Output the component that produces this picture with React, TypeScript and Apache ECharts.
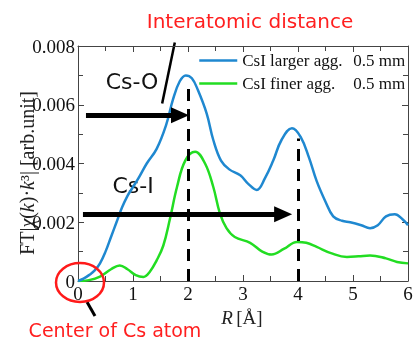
import React, { useEffect, useRef } from "react";
import * as echarts from "echarts";

// ---- data ----
const seriesNames = ["CsI larger agg.", "CsI finer agg."];
const sizeLabel = "0.5 mm";
const xTicks = [0, 1, 2, 3, 4, 5, 6];
const yTicks = [0, 0.002, 0.004, 0.006, 0.008];

const largerAgg: [number, number][] = [
  [0, 0], [0.1, 0.00008], [0.2, 0.0002], [0.3, 0.00035], [0.4, 0.0006], [0.5, 0.001],
  [0.6, 0.0015], [0.7, 0.002], [0.8, 0.0025], [0.9, 0.0029], [1.0, 0.0032], [1.1, 0.0035],
  [1.25, 0.004], [1.43, 0.0045], [1.6, 0.0053], [1.73, 0.0062], [1.85, 0.0068], [1.96, 0.0070],
  [2.07, 0.0069], [2.18, 0.0065], [2.34, 0.0057], [2.46, 0.0048], [2.6, 0.0041], [2.75, 0.0038],
  [2.95, 0.0036], [3.1, 0.0033], [3.25, 0.0031], [3.4, 0.0035], [3.55, 0.0041], [3.7, 0.0048],
  [3.89, 0.0052], [4.05, 0.0049], [4.2, 0.0042], [4.34, 0.0034], [4.5, 0.0027], [4.64, 0.0022],
  [4.8, 0.00205], [4.95, 0.002], [5.15, 0.0019], [5.31, 0.0018], [5.45, 0.0019], [5.6, 0.0022],
  [5.76, 0.00227], [5.9, 0.0021], [6, 0.0019],
];

const finerAgg: [number, number][] = [
  [0, 0], [0.2, 0.00003], [0.4, 0.00015], [0.6, 0.0004], [0.76, 0.00053], [0.9, 0.0004],
  [1.05, 0.0002], [1.19, 0.00014], [1.3, 0.0003], [1.43, 0.0007], [1.55, 0.0012], [1.67, 0.0021],
  [1.8, 0.0032], [1.95, 0.0041], [2.13, 0.0044], [2.31, 0.004], [2.46, 0.0032], [2.58, 0.0023],
  [2.7, 0.0018], [2.85, 0.0015], [3.13, 0.0013], [3.35, 0.001], [3.52, 0.0009], [3.75, 0.0011],
  [3.98, 0.00133], [4.15, 0.0013], [4.34, 0.00116], [4.6, 0.00095], [4.89, 0.00082], [5.1, 0.00084],
  [5.31, 0.00087], [5.6, 0.00077], [5.8, 0.00065], [6, 0.0006],
];

// annotations in data coordinates
const peakLines: [number, number][] = [[2, 0.00672], [4, 0.00485]]; // [R, top]
const arrowCsO: [[number, number], [number, number]] = [[0.145, 0.00564], [1.855, 0.00564]];
const arrowCsI: [[number, number], [number, number]] = [[0.09, 0.00227], [3.73, 0.00227]];
const pointerTop: [number, number] = [1.76, 0.00812];
const pointerBottom: [number, number] = [1.53, 0.00604];
const centerMark: [number, number] = [0, 0];

export default function App() {
  const ref = useRef<HTMLDivElement>(null);
  useEffect(() => {
    document.body.style.margin = "0";
    const chart = echarts.init(ref.current!, null, { renderer: "svg" });
    const serif = "'Liberation Serif', 'Times New Roman', serif";
    const sans = "'DejaVu Sans', 'Liberation Sans', Arial, sans-serif";
    const axisColor = "#444";

    const baseX = {
      type: "value" as const,
      min: xTicks[0],
      max: xTicks[xTicks.length - 1],
      interval: 1,
      axisLine: { show: true, onZero: false, lineStyle: { color: axisColor, width: 1 } },
      axisTick: { show: true, inside: true, length: 6, lineStyle: { color: axisColor } },
      minorTick: { show: true, splitNumber: 2, length: 5, lineStyle: { color: axisColor } },
      splitLine: { show: false },
      minorSplitLine: { show: false },
    };
    const baseY = {
      type: "value" as const,
      min: yTicks[0],
      max: yTicks[yTicks.length - 1],
      interval: 0.002,
      axisLine: { show: true, onZero: false, lineStyle: { color: axisColor, width: 1 } },
      axisTick: { show: true, inside: true, length: 6, lineStyle: { color: axisColor } },
      minorTick: { show: true, splitNumber: 2, length: 5, lineStyle: { color: axisColor } },
      splitLine: { show: false },
      minorSplitLine: { show: false },
    };

    const arrowLine = (seg: [[number, number], [number, number]]) => [
      { coord: seg[0], symbol: "none", lineStyle: { type: "solid", width: 5, color: "#000" } },
      { coord: seg[1], symbol: "triangle" },
    ];

    chart.setOption({
      animation: false,
      grid: { left: 78, right: 9, top: 46, bottom: 59 },
      xAxis: [
        {
          ...baseX,
          position: "bottom",
          axisLabel: { show: true, margin: 3, color: "#111", fontFamily: serif, fontSize: 19 },
        },
        { ...baseX, position: "top", axisLabel: { show: false } },
      ],
      yAxis: [
        {
          ...baseY,
          position: "left",
          axisLabel: {
            show: true,
            margin: 3,
            color: "#111",
            fontFamily: serif,
            fontSize: 19,
            formatter: (v: number) => (v === 0 ? "0" : v.toFixed(3)),
          },
        },
        { ...baseY, position: "right", axisLabel: { show: false } },
      ],
      legend: {
        show: true,
        orient: "vertical",
        left: 198,
        top: 52,
        itemWidth: 38,
        itemHeight: 14,
        itemGap: 6,
        padding: 0,
        itemStyle: { opacity: 0 },
        lineStyle: { width: 2.5 },
        textStyle: {
          color: "#111",
          fontFamily: serif,
          fontSize: 17,
          rich: {
            a: { width: 111, fontFamily: serif, fontSize: 17, color: "#111" },
            b: { fontFamily: serif, fontSize: 17, color: "#111" },
          },
        },
        formatter: (name: string) => `{a|${name}}{b|${sizeLabel}}`,
        data: seriesNames,
      },
      series: [
        {
          name: seriesNames[0],
          type: "line",
          data: largerAgg,
          smooth: 0.4,
          symbol: "none",
          lineStyle: { color: "#1f88d0", width: 2.5 },
          itemStyle: { color: "#1f88d0" },
          z: 3,
        },
        {
          name: seriesNames[1],
          type: "line",
          data: finerAgg,
          smooth: 0.4,
          symbol: "none",
          lineStyle: { color: "#22dd22", width: 2.5 },
          itemStyle: { color: "#22dd22" },
          z: 2,
          markLine: {
            silent: true,
            animation: false,
            label: { show: false },
            symbolSize: [16, 18],
            data: [
              ...peakLines.map((p) => [
                { coord: [p[0], 0], symbol: "none", lineStyle: { type: [12, 8], width: 3, color: "#000" } },
                { coord: [p[0], p[1]], symbol: "none" },
              ]),
              arrowLine(arrowCsO),
              arrowLine(arrowCsI),
            ],
            itemStyle: { color: "#000" },
          },
        },
      ],
    });

    const px = (p: [number, number]) => chart.convertToPixel({ gridIndex: 0 }, p) as number[];
    const c = px(centerMark);
    const pt = px(pointerTop);
    const pb = px(pointerBottom);

    chart.setOption({
      graphic: [
        {
          type: "text",
          x: 250,
          y: 21,
          style: {
            text: "Interatomic distance",
            fill: "#ff1f1f",
            font: `20px ${sans}`,
            align: "center",
            verticalAlign: "middle",
          },
        },
        {
          type: "line",
          shape: { x1: pt[0], y1: pt[1], x2: pb[0], y2: pb[1] },
          style: { stroke: "#000", lineWidth: 2.5 },
        },
        {
          type: "text",
          x: 132,
          y: 81,
          style: { text: "Cs-O", fill: "#111", font: `22px ${sans}`, align: "center", verticalAlign: "middle" },
        },
        {
          type: "text",
          x: 133,
          y: 185,
          style: { text: "Cs-I", fill: "#111", font: `22px ${sans}`, align: "center", verticalAlign: "middle" },
        },
        {
          type: "ellipse",
          shape: { cx: c[0] + 2, cy: c[1] + 1.5, rx: 24, ry: 19.5 },
          style: { fill: "none", stroke: "#ff1a1a", lineWidth: 2.5 },
          z: 10,
        },
        {
          type: "line",
          shape: { x1: c[0] + 9, y1: c[1] + 21, x2: c[0] + 17, y2: c[1] + 35 },
          style: { stroke: "#000", lineWidth: 3 },
        },
        {
          type: "text",
          x: 115,
          y: 330,
          style: {
            text: "Center of Cs atom",
            fill: "#ff1f1f",
            font: `19px ${sans}`,
            align: "center",
            verticalAlign: "middle",
          },
        },
        {
          type: "text",
          x: 27,
          y: 173,
          rotation: Math.PI / 2,
          style: {
            text: "{r|FT|}{i|χ}{r|(}{i|k}{r|)·}{i|k}{r|³| [arb.unit]}",
            align: "center",
            verticalAlign: "middle",
            rich: {
              r: { font: `20px ${serif}`, fill: "#222" },
              i: { font: `italic 20px ${serif}`, fill: "#222" },
            },
          },
        },
        {
          type: "text",
          x: 242,
          y: 317,
          style: {
            text: "{i|R} {r|[Å]}",
            align: "center",
            verticalAlign: "middle",
            rich: {
              r: { font: `19px ${serif}`, fill: "#222" },
              i: { font: `italic 19px ${serif}`, fill: "#222" },
            },
          },
        },
      ],
    });

    return () => chart.dispose();
  }, []);
  return <div ref={ref} style={{ width: 417, height: 340, position: "fixed", left: 0, top: 0 }} />;
}
